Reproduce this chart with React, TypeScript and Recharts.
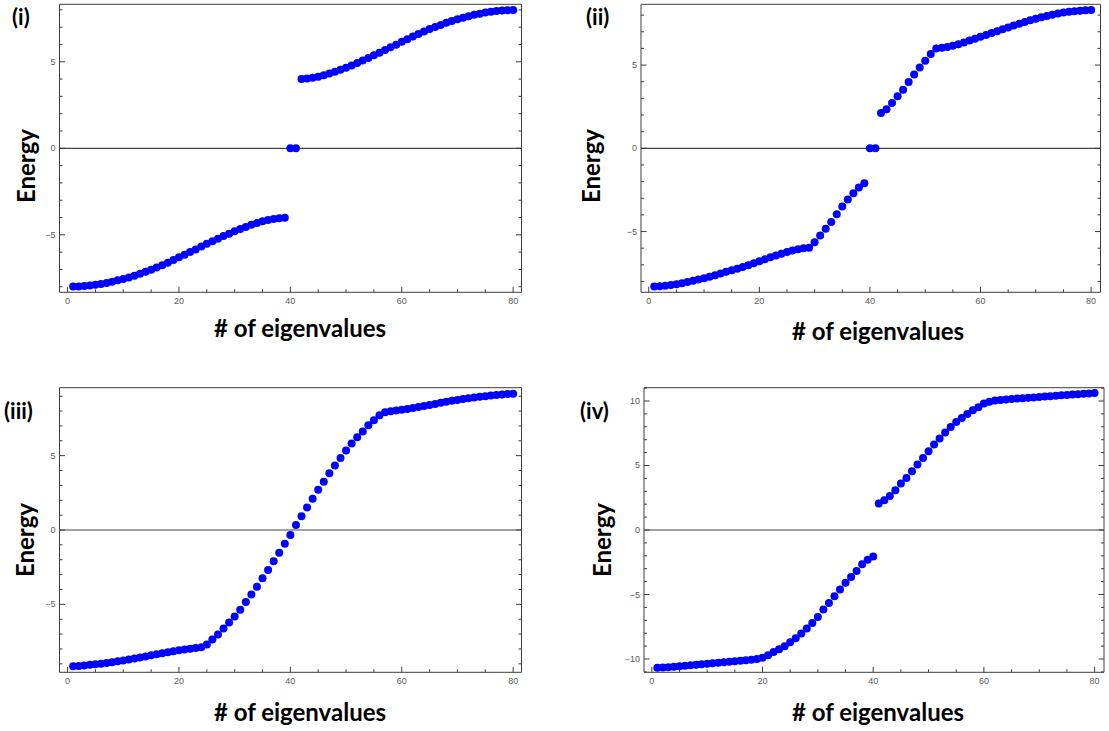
import React from "react";
import { ScatterChart, Scatter, XAxis, YAxis, ReferenceLine } from "recharts";

// eigenvalue index (x) for every panel
const EIGEN_INDEX = Array.from({ length: 80 }, (_, i) => i + 1);

const X_TICKS = [0, 5, 10, 15, 20, 25, 30, 35, 40, 45, 50, 55, 60, 65, 70, 75, 80];
const Y_TICKS_I = [-8, -7, -6, -5, -4, -3, -2, -1, 0, 1, 2, 3, 4, 5, 6, 7, 8];
const Y_TICKS_II = [-8, -7, -6, -5, -4, -3, -2, -1, 0, 1, 2, 3, 4, 5, 6, 7, 8];
const Y_TICKS_III = [-9, -8, -7, -6, -5, -4, -3, -2, -1, 0, 1, 2, 3, 4, 5, 6, 7, 8, 9];
const Y_TICKS_IV = [-11, -10, -9, -8, -7, -6, -5, -4, -3, -2, -1, 0, 1, 2, 3, 4, 5, 6, 7, 8, 9, 10, 11];

// (i)
const ENERGY_I = [
  -7.99, -7.98, -7.96, -7.93, -7.89, -7.84, -7.78, -7.71, -7.63, -7.55,
  -7.46, -7.36, -7.25, -7.13, -7.01, -6.89, -6.75, -6.61, -6.46, -6.30,
  -6.15, -5.99, -5.84, -5.68, -5.52, -5.37, -5.22, -5.07, -4.93, -4.79,
  -4.66, -4.54, -4.42, -4.32, -4.22, -4.14, -4.08, -4.04, -4.01, 0,
  0, 4.01, 4.04, 4.08, 4.14, 4.22, 4.32, 4.42, 4.54, 4.66,
  4.79, 4.93, 5.07, 5.22, 5.37, 5.52, 5.68, 5.84, 5.99, 6.15,
  6.30, 6.46, 6.61, 6.75, 6.89, 7.01, 7.13, 7.25, 7.36, 7.46,
  7.55, 7.63, 7.71, 7.78, 7.84, 7.89, 7.93, 7.96, 7.98, 7.99,
];

// (ii)
const ENERGY_II = [
  -8.30, -8.28, -8.25, -8.21, -8.16, -8.10, -8.03, -7.96, -7.88, -7.80,
  -7.71, -7.62, -7.52, -7.42, -7.32, -7.23, -7.13, -7.02, -6.90, -6.79,
  -6.67, -6.55, -6.44, -6.33, -6.23, -6.14, -6.06, -6.01, -5.97, -5.64,
  -5.24, -4.84, -4.42, -3.96, -3.50, -3.08, -2.70, -2.35, -2.10, 0,
  0, 2.12, 2.34, 2.72, 3.12, 3.52, 3.98, 4.44, 4.86, 5.26,
  5.66, 6.00, 6.04, 6.08, 6.16, 6.25, 6.36, 6.47, 6.58, 6.70,
  6.81, 6.92, 7.03, 7.15, 7.26, 7.37, 7.48, 7.59, 7.69, 7.78,
  7.87, 7.95, 8.02, 8.09, 8.15, 8.20, 8.24, 8.27, 8.29, 8.31,
];

// (iii)
const ENERGY_III = [
  -9.17, -9.14, -9.11, -9.07, -9.03, -8.99, -8.94, -8.89, -8.83, -8.77,
  -8.71, -8.64, -8.57, -8.50, -8.43, -8.36, -8.29, -8.22, -8.15, -8.09,
  -8.03, -7.98, -7.93, -7.88, -7.70, -7.36, -7.02, -6.62, -6.22, -5.81,
  -5.36, -4.84, -4.33, -3.81, -3.25, -2.69, -2.11, -1.53, -0.92, -0.33,
  0.33, 0.92, 1.52, 2.10, 2.70, 3.25, 3.81, 4.33, 4.84, 5.35,
  5.81, 6.24, 6.63, 7.04, 7.38, 7.72, 7.92, 7.98, 8.03, 8.08,
  8.14, 8.20, 8.27, 8.34, 8.41, 8.48, 8.55, 8.62, 8.69, 8.75,
  8.81, 8.86, 8.91, 8.96, 9.00, 9.04, 9.08, 9.11, 9.14, 9.17,
];

// (iv)
const ENERGY_IV = [
  -10.68, -10.66, -10.63, -10.60, -10.57, -10.53, -10.49, -10.45, -10.41, -10.37,
  -10.33, -10.29, -10.25, -10.21, -10.17, -10.13, -10.09, -10.05, -10.00, -9.91,
  -9.71, -9.46, -9.25, -9.02, -8.71, -8.40, -8.03, -7.64, -7.21, -6.74,
  -6.17, -5.66, -5.14, -4.62, -4.08, -3.64, -3.18, -2.66, -2.30, -2.05,
  2.05, 2.30, 2.64, 3.08, 3.60, 4.03, 4.55, 5.07, 5.58, 6.10,
  6.62, 7.09, 7.55, 7.98, 8.37, 8.68, 8.99, 9.28, 9.51, 9.80,
  9.94, 10.03, 10.08, 10.12, 10.16, 10.19, 10.22, 10.25, 10.28, 10.31,
  10.34, 10.37, 10.40, 10.44, 10.47, 10.50, 10.53, 10.56, 10.59, 10.62,
];

const FRAME = "#3c3c3c";
const TICK_TEXT = "#5a5a5a";
const DOT = "#0000ff";
const LABEL_FONT = "Lato, 'Open Sans', sans-serif";
const TICK_FONT = "'Liberation Sans', Arial, sans-serif";

const fmt = (v: number) => (v < 0 ? "\u2212" + Math.abs(v) : String(v));

function BottomTick(props: any) {
  const { x, y, payload } = props;
  const major = payload.value % 20 === 0;
  return (
    <g>
      <line x1={x} x2={x} y1={y} y2={y - (major ? 5.5 : 3)} stroke={FRAME} />
      {major && (
        <text x={x} y={y + 12} textAnchor="middle" fontSize={9} fill={TICK_TEXT} fontFamily={TICK_FONT}>
          {fmt(payload.value)}
        </text>
      )}
    </g>
  );
}

function TopTick(props: any) {
  const { x, y, payload } = props;
  const major = payload.value % 20 === 0;
  return <line x1={x} x2={x} y1={y} y2={y + (major ? 5.5 : 3)} stroke={FRAME} />;
}

function LeftTick(props: any) {
  const { x, y, payload } = props;
  const major = payload.value % 5 === 0;
  return (
    <g>
      <line x1={x} x2={x + (major ? 5.5 : 3)} y1={y} y2={y} stroke={FRAME} />
      {major && (
        <text x={x - 4} y={y + 3} textAnchor="end" fontSize={9} fill={TICK_TEXT} fontFamily={TICK_FONT}>
          {fmt(payload.value)}
        </text>
      )}
    </g>
  );
}

function RightTick(props: any) {
  const { x, y, payload } = props;
  const major = payload.value % 5 === 0;
  return <line x1={x} x2={x - (major ? 5.5 : 3)} y1={y} y2={y} stroke={FRAME} />;
}

interface PanelProps {
  tag: string;
  box: [number, number, number, number]; // chart x, y, w, h
  frame: [number, number, number, number]; // left, top, right, bottom
  xDomain: [number, number];
  yDomain: [number, number];
  yTicks: number[];
  values: number[];
  tagPos: [number, number];
  energyPos: [number, number];
  xLabelPos: [number, number];
}

const AX = 1; // thickness reserved for each axis

function Panel(p: PanelProps) {
  const [bx, by, bw, bh] = p.box;
  const [fl, ft, fr, fb] = p.frame;
  const rows = EIGEN_INDEX.map((n, i) => ({ n, e: p.values[i] }));
  return (
    <>
      <div style={{ position: "absolute", left: bx, top: by }}>
        <ScatterChart
          width={bw}
          height={bh}
          margin={{
            left: fl - bx - AX,
            top: ft - by - AX,
            right: bx + bw - fr - AX,
            bottom: by + bh - fb - AX,
          }}
        >
          <XAxis
            xAxisId="b"
            type="number"
            dataKey="n"
            domain={p.xDomain}
            allowDataOverflow
            ticks={X_TICKS}
            interval={0}
            height={AX}
            tickSize={0}
            tickMargin={0}
            tickLine={false}
            axisLine={{ stroke: FRAME }}
            tick={(t: any) => <BottomTick {...t} />}
          />
          <XAxis
            xAxisId="t"
            orientation="top"
            type="number"
            domain={p.xDomain}
            allowDataOverflow
            ticks={X_TICKS}
            interval={0}
            height={AX}
            tickSize={0}
            tickMargin={0}
            tickLine={false}
            axisLine={{ stroke: FRAME }}
            tick={(t: any) => <TopTick {...t} />}
          />
          <YAxis
            yAxisId="l"
            type="number"
            dataKey="e"
            domain={p.yDomain}
            allowDataOverflow
            ticks={p.yTicks}
            interval={0}
            width={AX}
            tickSize={0}
            tickMargin={0}
            tickLine={false}
            axisLine={{ stroke: FRAME }}
            tick={(t: any) => <LeftTick {...t} />}
          />
          <YAxis
            yAxisId="r"
            orientation="right"
            type="number"
            domain={p.yDomain}
            allowDataOverflow
            ticks={p.yTicks}
            interval={0}
            width={AX}
            tickSize={0}
            tickMargin={0}
            tickLine={false}
            axisLine={{ stroke: FRAME }}
            tick={(t: any) => <RightTick {...t} />}
          />
          <ReferenceLine xAxisId="b" yAxisId="l" y={0} stroke="#444" strokeWidth={1.2} />
          <Scatter
            xAxisId="b"
            yAxisId="l"
            data={rows}
            isAnimationActive={false}
            shape={(s: any) => <circle cx={s.cx} cy={s.cy} r={4} fill={DOT} />}
          />
        </ScatterChart>
      </div>
      <svg
        width={1109}
        height={731}
        style={{ position: "absolute", left: 0, top: 0, pointerEvents: "none" }}
      >
        <text x={p.tagPos[0]} y={p.tagPos[1]} fontSize={22} fontWeight={700} fontFamily={LABEL_FONT} fill="#000">
          {p.tag}
        </text>
        <text
          x={p.energyPos[0]}
          y={p.energyPos[1]}
          transform={`rotate(-90 ${p.energyPos[0]} ${p.energyPos[1]})`}
          textAnchor="middle"
          dominantBaseline="central"
          fontSize={24}
          fontWeight={700}
          fontFamily={LABEL_FONT}
          fill="#000"
        >
          Energy
        </text>
        <text
          x={p.xLabelPos[0]}
          y={p.xLabelPos[1]}
          textAnchor="middle"
          fontSize={24}
          fontWeight={700}
          fontFamily={LABEL_FONT}
          fill="#000"
        >
          # of eigenvalues
        </text>
      </svg>
    </>
  );
}

export default function App() {
  return (
    <div style={{ position: "absolute", left: 0, top: 0, width: 1109, height: 731, background: "#fff" }}>
      <Panel
        tag="(i)"
        box={[0, 0, 555, 365]}
        frame={[59.5, 4.3, 521.5, 292.3]}
        xDomain={[-1.45, 81.5]}
        yDomain={[-8.32, 8.32]}
        yTicks={Y_TICKS_I}
        values={ENERGY_I}
        tagPos={[12, 25]}
        energyPos={[25, 166]}
        xLabelPos={[300, 337]}
      />
      <Panel
        tag="(ii)"
        box={[555, 0, 554, 365]}
        frame={[641, 4.3, 1100.5, 292.3]}
        xDomain={[-1.4, 81.7]}
        yDomain={[-8.65, 8.65]}
        yTicks={Y_TICKS_II}
        values={ENERGY_II}
        tagPos={[586, 25]}
        energyPos={[590, 166]}
        xLabelPos={[878, 340]}
      />
      <Panel
        tag="(iii)"
        box={[0, 365, 555, 366]}
        frame={[59.5, 387.7, 521.5, 672.3]}
        xDomain={[-1.45, 81.5]}
        yDomain={[-9.57, 9.57]}
        yTicks={Y_TICKS_III}
        values={ENERGY_III}
        tagPos={[4, 419]}
        energyPos={[24, 540]}
        xLabelPos={[300, 721]}
      />
      <Panel
        tag="(iv)"
        box={[555, 365, 554, 366]}
        frame={[644, 387.7, 1104, 672.3]}
        xDomain={[-1.41, 81.7]}
        yDomain={[-11.03, 11.03]}
        yTicks={Y_TICKS_IV}
        values={ENERGY_IV}
        tagPos={[580, 419]}
        energyPos={[601, 540]}
        xLabelPos={[878, 721]}
      />
    </div>
  );
}
